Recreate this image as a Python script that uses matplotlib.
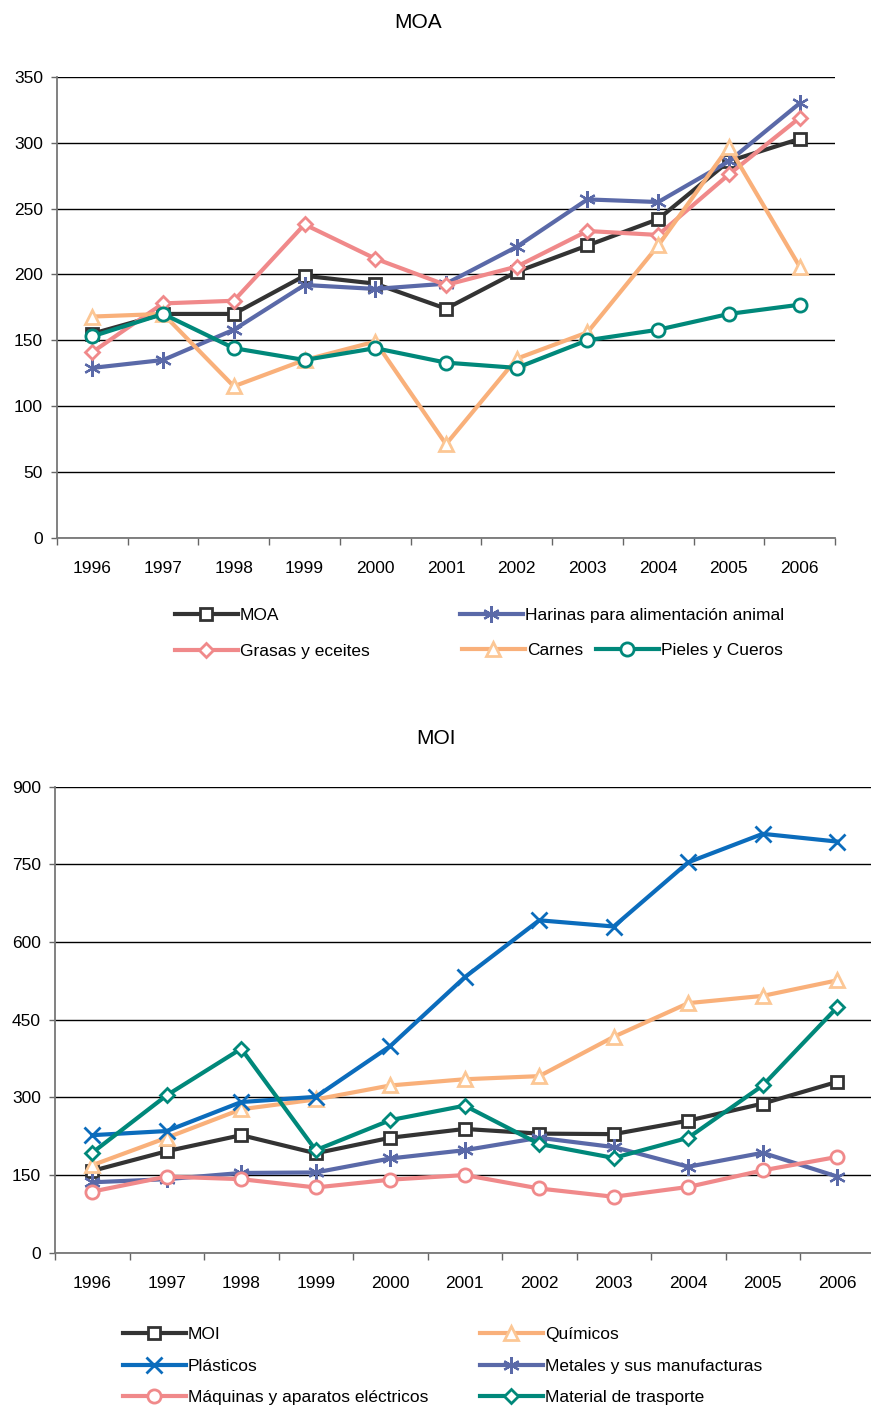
import matplotlib
matplotlib.use("Agg")
import matplotlib.pyplot as plt
from matplotlib.lines import Line2D
from matplotlib.ticker import FixedLocator
import numpy as np

plt.rcParams["font.family"] = ["Liberation Sans Narrow", "Liberation Sans", "DejaVu Sans"]

years = ["1996", "1997", "1998", "1999", "2000", "2001", "2002", "2003", "2004", "2005", "2006"]

# ── MOA data ────────────────────────────────────────────────────────────
moa = [155, 170, 170, 199, 193, 174, 202, 222, 242, 286, 303]
harinas = [129, 135, 158, 192, 189, 193, 221, 257, 255, 286, 330]
grasas = [141, 178, 180, 238, 212, 192, 206, 233, 230, 276, 319]
carnes = [168, 170, 115, 135, 149, 71, 136, 156, 222, 297, 206]
pieles = [153, 170, 144, 135, 144, 133, 129, 150, 158, 170, 177]

# ── MOI data ────────────────────────────────────────────────────────────
moi = [158, 196, 227, 192, 222, 239, 230, 229, 255, 288, 330]
quimicos = [169, 222, 277, 296, 323, 335, 341, 417, 482, 496, 526]
plasticos = [227, 235, 291, 301, 399, 532, 642, 630, 754, 809, 794]
metales = [136, 142, 154, 155, 182, 198, 222, 204, 166, 193, 147]
maquinas = [118, 147, 142, 126, 141, 150, 124, 108, 127, 159, 185]
material = [193, 304, 394, 198, 256, 284, 210, 183, 222, 323, 474]

BLACK = "#333333"
PURPLE = "#5a69a8"
PINK = "#f0898a"
ORANGE = "#f9b07a"
ORANGE_EDGE = "#fcc795"
TEAL = "#00887a"
BLUE = "#0b6cbc"

W, H = 871, 1410
fig = plt.figure(figsize=(W / 100, H / 100), dpi=100)


def px_axes(x0, y0, x1, y1):
    return fig.add_axes([x0 / W, 1 - y1 / H, (x1 - x0) / W, (y1 - y0) / H])


def style_axes(ax, ymax, ystep):
    x = np.arange(len(years))
    ax.set_xlim(-0.5, len(years) - 0.5)
    ax.set_ylim(0, ymax)
    ax.set_yticks(np.arange(0, ymax + 1, ystep))
    ax.set_xticks(x)
    ax.set_xticklabels(years)
    ax.xaxis.set_minor_locator(FixedLocator(np.arange(-0.5, len(years), 1)))
    ax.tick_params(axis="x", which="major", length=0, pad=17, labelsize=12.5)
    ax.tick_params(axis="x", which="minor", length=5, width=1, color="#666666", direction="out")
    ax.tick_params(axis="y", length=4, width=1, color="#666666", pad=6, labelsize=12.5)
    ax.grid(True, axis="y", color="black", linewidth=1)
    ax.set_axisbelow(True)
    for s in ["right", "top"]:
        ax.spines[s].set_visible(False)
    for s in ["left", "bottom"]:
        ax.spines[s].set_color("#777777")
        ax.spines[s].set_linewidth(1.3)


def series(ax, vals, color, marker, edge=None, ms=9, mew=2):
    x = np.arange(len(vals))
    return ax.plot(x, vals, color=color, linewidth=3, marker=marker, markersize=ms,
                   markerfacecolor="white", markeredgecolor=edge or color,
                   markeredgewidth=mew, clip_on=False)[0]


def legend_item(handle, label, xpx, ypx):
    fig.legend(handles=[handle], labels=[label], loc="center left",
               bbox_to_anchor=(xpx / W, 1 - ypx / H), frameon=False,
               borderpad=0, borderaxespad=0, handlelength=3.6, handletextpad=0.15,
               fontsize=12.5, numpoints=1)


# ── MOA chart ───────────────────────────────────────────────────────────
ax1 = px_axes(57, 77, 835, 537.7)
style_axes(ax1, 350, 50)
h_moa = series(ax1, moa, BLACK, "s", ms=9)
h_har = series(ax1, harinas, PURPLE, (6, 2, 0), ms=12, mew=1.6)
h_gra = series(ax1, grasas, PINK, "D", ms=7.5)
h_car = series(ax1, carnes, ORANGE, "^", edge=ORANGE_EDGE, ms=10)
h_pie = series(ax1, pieles, TEAL, "o", ms=9.5)
fig.text(418 / W, 1 - 22 / H, "MOA", ha="center", va="center", fontsize=15)

legend_item(h_moa, "MOA", 175, 615)
legend_item(h_har, "Harinas para alimentación animal", 460, 615)
legend_item(h_gra, "Grasas y eceites", 175, 651)
legend_item(h_car, "Carnes", 462, 650)
legend_item(h_pie, "Pieles y Cueros", 596, 650)

# ── MOI chart ───────────────────────────────────────────────────────────
ax2 = px_axes(55, 786.7, 874.5, 1252.7)
style_axes(ax2, 900, 150)
h_moi = series(ax2, moi, BLACK, "s", ms=9)
h_qui = series(ax2, quimicos, ORANGE, "^", edge=ORANGE_EDGE, ms=10)
h_pla = series(ax2, plasticos, BLUE, "x", ms=12, mew=2)
h_met = series(ax2, metales, PURPLE, (6, 2, 0), ms=12, mew=1.6)
h_maq = series(ax2, maquinas, PINK, "o", ms=9.5)
h_mat = series(ax2, material, TEAL, "D", ms=7.5)
fig.text(436 / W, 1 - 738 / H, "MOI", ha="center", va="center", fontsize=15)

legend_item(h_moi, "MOI", 123, 1334)
legend_item(h_qui, "Químicos", 480, 1334)
legend_item(h_pla, "Plásticos", 123, 1366)
legend_item(h_met, "Metales y sus manufacturas", 480, 1366)
legend_item(h_maq, "Máquinas y aparatos eléctricos", 123, 1397)
legend_item(h_mat, "Material de trasporte", 480, 1397)

fig.savefig("out.png", dpi=100)
